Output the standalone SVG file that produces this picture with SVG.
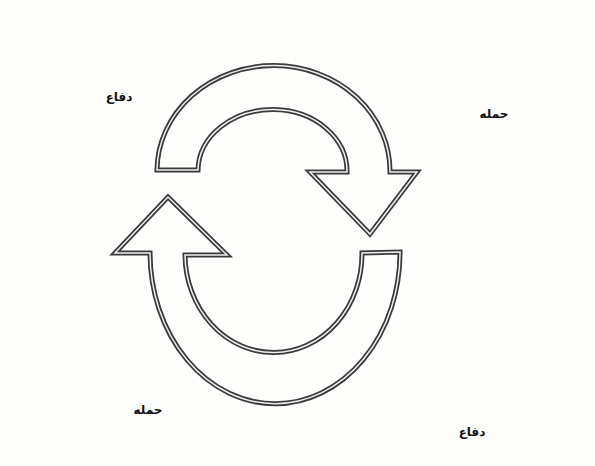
<svg xmlns="http://www.w3.org/2000/svg" width="595" height="466" viewBox="0 0 595 466">
<style>
.outer{fill:none;stroke:#3a3a3a;stroke-width:5;stroke-linejoin:miter}
.inner{fill:none;stroke:#f0f0f0;stroke-width:1.5;stroke-linejoin:miter}
.lbl{font-family:"DejaVu Sans","Liberation Sans",sans-serif;font-size:12px;font-weight:bold;fill:#111;text-anchor:middle}
</style>
<defs>
<path id="topArrow" d="M157,170 A116,105 0 0 1 390,172 L417,172 L370,234 L310,172 L347,172 A74,61 0 0 0 198,170 Z"/>
<path id="bottomArrow" d="M400,252 A124,150 0 0 1 150,253 L115,253 L168,197 L227,255 L185,255 A88,98 0 0 0 362,253 Z"/>
</defs>
<rect width="595" height="466" fill="#fefefc"/>
<g id="connectors">
<g id="arrow-top"><use href="#topArrow" class="outer"/><use href="#topArrow" class="inner"/></g>
<g id="arrow-bottom"><use href="#bottomArrow" class="outer"/><use href="#bottomArrow" class="inner"/></g>
</g>
<g id="label-defense-top"><text class="lbl" x="119" y="101">دفاع</text></g>
<g id="label-attack-top"><text class="lbl" x="494" y="118">حمله</text></g>
<g id="label-attack-bottom"><text class="lbl" x="148" y="414">حمله</text></g>
<g id="label-defense-bottom"><text class="lbl" x="472" y="436">دفاع</text></g>
</svg>
